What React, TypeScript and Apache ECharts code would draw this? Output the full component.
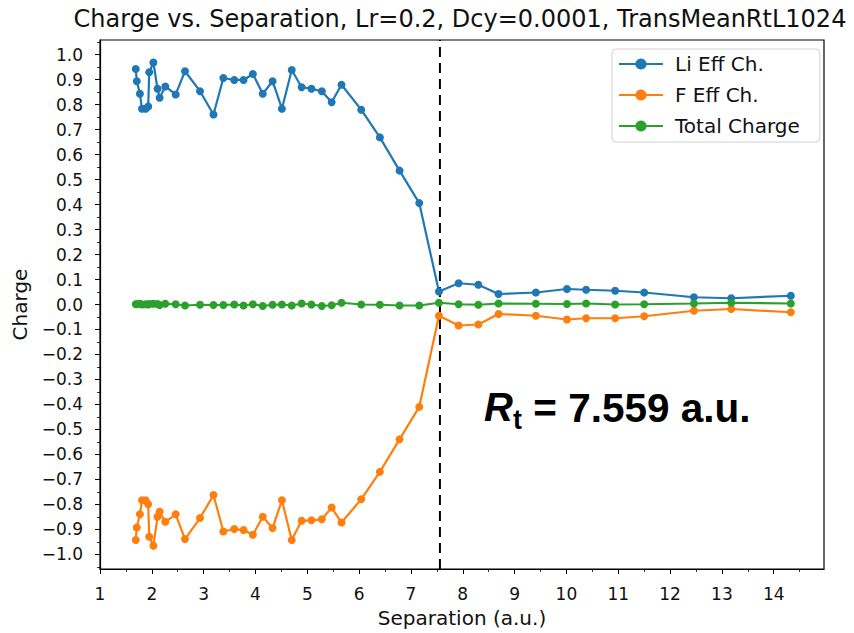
import React, { useEffect, useRef } from "react";
import * as echarts from "echarts";

const separation = [1.69, 1.71, 1.77, 1.81, 1.88, 1.93, 1.95, 2.03, 2.11, 2.15, 2.26, 2.46, 2.64, 2.93, 3.19, 3.38, 3.59, 3.77, 3.95, 4.14, 4.33, 4.51, 4.70, 4.89, 5.08, 5.28, 5.47, 5.66, 6.04, 6.40, 6.78, 7.16, 7.54, 7.92, 8.30, 8.69, 9.41, 10.01, 10.38, 10.94, 11.50, 12.46, 13.18, 14.33];
const liEff = [0.943, 0.894, 0.844, 0.784, 0.784, 0.793, 0.930, 0.969, 0.864, 0.828, 0.873, 0.841, 0.934, 0.854, 0.761, 0.907, 0.899, 0.899, 0.923, 0.844, 0.894, 0.784, 0.939, 0.870, 0.864, 0.854, 0.810, 0.880, 0.780, 0.669, 0.536, 0.406, 0.052, 0.085, 0.079, 0.042, 0.048, 0.062, 0.059, 0.055, 0.048, 0.029, 0.025, 0.035];
const fEff = [-0.943, -0.893, -0.840, -0.784, -0.784, -0.800, -0.930, -0.966, -0.850, -0.830, -0.870, -0.840, -0.939, -0.855, -0.763, -0.909, -0.899, -0.903, -0.922, -0.850, -0.895, -0.784, -0.943, -0.866, -0.864, -0.860, -0.813, -0.873, -0.780, -0.670, -0.540, -0.410, -0.045, -0.084, -0.080, -0.038, -0.045, -0.060, -0.055, -0.055, -0.047, -0.025, -0.018, -0.031];
const totalCharge = [0.001, 0.002, 0.003, 0.0, 0.001, 0.0, 0.002, 0.003, 0.002, -0.002, 0.003, 0.001, -0.004, -0.001, -0.002, -0.002, 0.0, -0.004, 0.001, -0.006, -0.001, 0.0, -0.004, 0.004, 0.0, -0.006, -0.003, 0.007, 0.0, -0.001, -0.004, -0.004, 0.007, 0.001, -0.001, 0.004, 0.003, 0.002, 0.004, 0.0, 0.001, 0.004, 0.007, 0.004];

const transitionR = 7.559;
const seriesNames = ["Li Eff Ch.", "F Eff Ch.", "Total Charge"];
const xTicks = [1, 2, 3, 4, 5, 6, 7, 8, 9, 10, 11, 12, 13, 14];
const xMinorTicks = [1.5, 2.5, 3.5, 4.5, 5.5, 6.5, 7.5, 8.5, 9.5, 10.5, 11.5, 12.5, 13.5, 14.5];
const yTicks = [-1.0, -0.9, -0.8, -0.7, -0.6, -0.5, -0.4, -0.3, -0.2, -0.1, 0.0, 0.1, 0.2, 0.3, 0.4, 0.5, 0.6, 0.7, 0.8, 0.9, 1.0];
const yMinorTicks = [-1.05, -0.95, -0.85, -0.75, -0.65, -0.55, -0.45, -0.35, -0.25, -0.15, -0.05, 0.05, 0.15, 0.25, 0.35, 0.45, 0.55, 0.65, 0.75, 0.85, 0.95, 1.05];

const X_MIN = 1;
const X_MAX = 14.97;
const Y_MIN = -1.059;
const Y_MAX = 1.059;

const FONT = "DejaVu Sans";
const COLORS = ["#1f77b4", "#ff7f0e", "#2ca02c"];

export default function App() {
  const ref = useRef<HTMLDivElement>(null);

  useEffect(() => {
    if (!ref.current) return;
    document.body.style.margin = "0";
    const chart = echarts.init(ref.current, undefined, { renderer: "svg" });
    const pairs = (ys: number[]) => separation.map((x, i) => [x, ys[i]]);
    const fmtY = (v: number) => {
      const s = Math.abs(v).toFixed(1);
      return v < -1e-9 ? "\u2212" + s : s;
    };
    const lineSeries = (name: string, ys: number[], color: string) => ({
      name,
      type: "line",
      data: pairs(ys),
      xAxisIndex: 0,
      yAxisIndex: 0,
      color,
      symbol: "circle",
      symbolSize: 8,
      showSymbol: true,
      lineStyle: { width: 2.2, color },
      itemStyle: { color },
      emphasis: { disabled: true },
    });

    chart.setOption({
      animation: false,
      backgroundColor: "#fff",
      title: {
        text: "Charge vs. Separation, Lr=0.2, Dcy=0.0001, TransMeanRtL1024",
        left: 455,
        textAlign: "center",
        top: 2,
        textStyle: { fontFamily: FONT, fontSize: 24, fontWeight: "normal", color: "#111" },
      },
      grid: { left: 100, top: 40, width: 724, height: 532, show: true, borderColor: "#000", borderWidth: 1.2, backgroundColor: "transparent" },
      legend: {
        data: seriesNames,
        orient: "vertical",
        left: 612,
        top: 49,
        itemWidth: 44,
        itemHeight: 14,
        itemGap: 11,
        padding: [5, 20, 6, 6],
        borderColor: "#d0d0d0",
        borderWidth: 1,
        borderRadius: 4,
        backgroundColor: "rgba(255,255,255,0.8)",
        textStyle: { fontFamily: FONT, fontSize: 20, lineHeight: 20, color: "#111", padding: [0, 0, 0, 7] },
      },
      xAxis: [
        {
          type: "value",
          min: X_MIN,
          max: X_MAX,
          interval: 1,
          position: "bottom",
          name: "Separation (a.u.)",
          nameLocation: "middle",
          nameGap: 39,
          nameTextStyle: { fontFamily: FONT, fontSize: 20, color: "#111" },
          axisLine: { show: true, onZero: false, lineStyle: { color: "#000", width: 1.2 } },
          axisTick: { show: true, length: 5, customValues: xTicks, lineStyle: { color: "#000", width: 1 } },
          axisLabel: { customValues: xTicks, fontFamily: FONT, fontSize: 17, color: "#111", margin: 16 },
          splitLine: { show: false },
        },
        {
          type: "value",
          min: X_MIN,
          max: X_MAX,
          interval: 1,
          position: "bottom",
          axisLine: { show: false, onZero: false },
          axisTick: { show: true, length: 3, customValues: xMinorTicks, lineStyle: { color: "#000", width: 0.8 } },
          axisLabel: { show: false },
          splitLine: { show: false },
        },
      ],
      yAxis: [
        {
          type: "value",
          min: Y_MIN,
          max: Y_MAX,
          position: "left",
          name: "Charge",
          nameLocation: "middle",
          nameGap: 70,
          nameTextStyle: { fontFamily: FONT, fontSize: 20, color: "#111" },
          axisLine: { show: true, onZero: false, lineStyle: { color: "#000", width: 1.2 } },
          axisTick: { show: true, length: 5, customValues: yTicks, lineStyle: { color: "#000", width: 1 } },
          axisLabel: { customValues: yTicks, formatter: fmtY, fontFamily: FONT, fontSize: 17, color: "#111", margin: 17 },
          splitLine: { show: false },
        },
        {
          type: "value",
          min: Y_MIN,
          max: Y_MAX,
          position: "left",
          axisLine: { show: false, onZero: false },
          axisTick: { show: true, length: 3, customValues: yMinorTicks, lineStyle: { color: "#000", width: 0.8 } },
          axisLabel: { show: false },
          splitLine: { show: false },
        },
      ],
      series: [
        lineSeries(seriesNames[0], liEff, COLORS[0]),
        lineSeries(seriesNames[1], fEff, COLORS[1]),
        lineSeries(seriesNames[2], totalCharge, COLORS[2]),
        {
          name: "Rt",
          type: "line",
          data: [[transitionR, Y_MIN], [transitionR, Y_MAX]],
          symbol: "none",
          lineStyle: { color: "#000", width: 2, type: [10, 6] },
          emphasis: { disabled: true },
          z: 1,
        },
      ],
      graphic: [
        {
          type: "text",
          left: 484,
          top: 387,
          style: { text: "R", fontFamily: "Liberation Sans", fontWeight: "bold", fontStyle: "italic", fontSize: 40, fill: "#000" },
        },
        {
          type: "text",
          left: 513,
          top: 406,
          style: { text: "t", fontFamily: "Liberation Sans", fontWeight: "bold", fontSize: 27, fill: "#000" },
        },
        {
          type: "text",
          left: 522,
          top: 387,
          style: { text: " = 7.559 a.u.", fontFamily: "Liberation Sans", fontWeight: "bold", fontSize: 40.5, fill: "#000" },
        },
      ],
    });
    return () => chart.dispose();
  }, []);

  return <div ref={ref} style={{ width: 854, height: 633 }} />;
}
